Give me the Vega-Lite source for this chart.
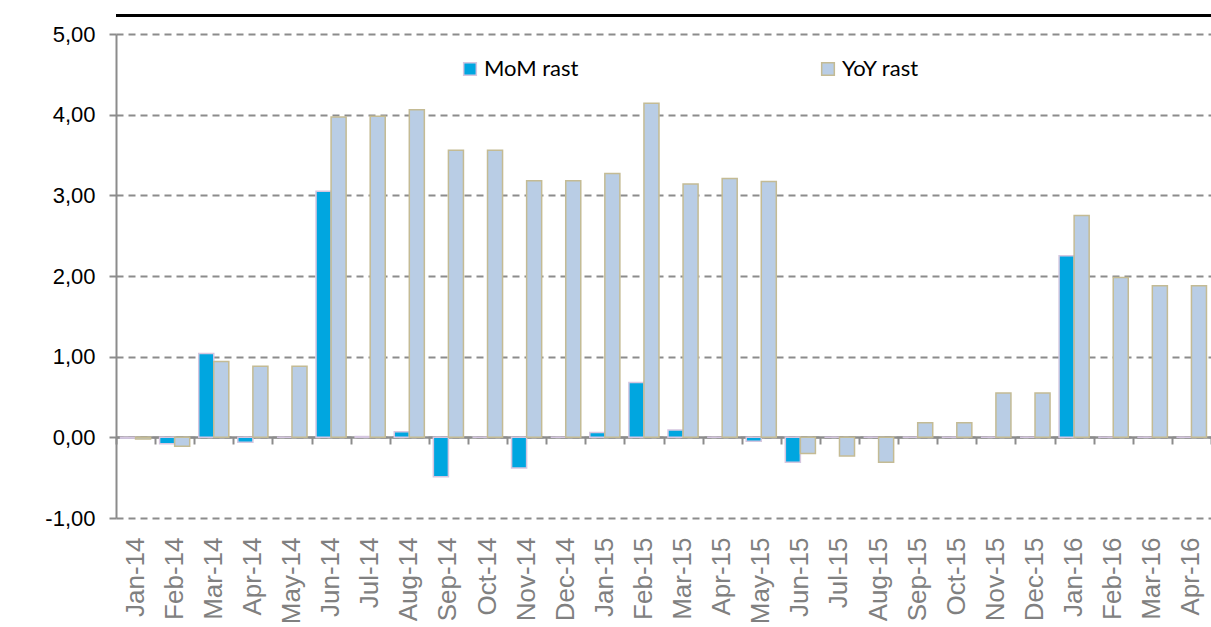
{
  "$schema": "https://vega.github.io/schema/vega-lite/v6.json",
  "width": 1095,
  "height": 484,
  "autosize": {"type": "none"},
  "padding": {"left": 116, "top": 34, "right": 0, "bottom": 109},
  "background": "white",
  "config": {"view": {"stroke": null}},
  "data": {"values": [
    {"month": "Jan-14", "series": "MoM rast", "value": -0.01},
    {"month": "Feb-14", "series": "MoM rast", "value": -0.08},
    {"month": "Mar-14", "series": "MoM rast", "value": 1.04},
    {"month": "Apr-14", "series": "MoM rast", "value": -0.06},
    {"month": "May-14", "series": "MoM rast", "value": 0},
    {"month": "Jun-14", "series": "MoM rast", "value": 3.05},
    {"month": "Jul-14", "series": "MoM rast", "value": 0.01},
    {"month": "Aug-14", "series": "MoM rast", "value": 0.07},
    {"month": "Sep-14", "series": "MoM rast", "value": -0.49},
    {"month": "Oct-14", "series": "MoM rast", "value": 0},
    {"month": "Nov-14", "series": "MoM rast", "value": -0.38},
    {"month": "Dec-14", "series": "MoM rast", "value": 0},
    {"month": "Jan-15", "series": "MoM rast", "value": 0.06},
    {"month": "Feb-15", "series": "MoM rast", "value": 0.68},
    {"month": "Mar-15", "series": "MoM rast", "value": 0.09},
    {"month": "Apr-15", "series": "MoM rast", "value": 0},
    {"month": "May-15", "series": "MoM rast", "value": -0.05},
    {"month": "Jun-15", "series": "MoM rast", "value": -0.31},
    {"month": "Jul-15", "series": "MoM rast", "value": 0},
    {"month": "Aug-15", "series": "MoM rast", "value": 0},
    {"month": "Sep-15", "series": "MoM rast", "value": 0},
    {"month": "Oct-15", "series": "MoM rast", "value": 0},
    {"month": "Nov-15", "series": "MoM rast", "value": 0},
    {"month": "Dec-15", "series": "MoM rast", "value": 0},
    {"month": "Jan-16", "series": "MoM rast", "value": 2.25},
    {"month": "Feb-16", "series": "MoM rast", "value": 0},
    {"month": "Mar-16", "series": "MoM rast", "value": 0},
    {"month": "Apr-16", "series": "MoM rast", "value": 0},
    {"month": "Jan-14", "series": "YoY rast", "value": -0.02},
    {"month": "Feb-14", "series": "YoY rast", "value": -0.11},
    {"month": "Mar-14", "series": "YoY rast", "value": 0.94},
    {"month": "Apr-14", "series": "YoY rast", "value": 0.88},
    {"month": "May-14", "series": "YoY rast", "value": 0.88},
    {"month": "Jun-14", "series": "YoY rast", "value": 3.97},
    {"month": "Jul-14", "series": "YoY rast", "value": 3.98},
    {"month": "Aug-14", "series": "YoY rast", "value": 4.06},
    {"month": "Sep-14", "series": "YoY rast", "value": 3.56},
    {"month": "Oct-14", "series": "YoY rast", "value": 3.56},
    {"month": "Nov-14", "series": "YoY rast", "value": 3.18},
    {"month": "Dec-14", "series": "YoY rast", "value": 3.18},
    {"month": "Jan-15", "series": "YoY rast", "value": 3.27},
    {"month": "Feb-15", "series": "YoY rast", "value": 4.14},
    {"month": "Mar-15", "series": "YoY rast", "value": 3.14},
    {"month": "Apr-15", "series": "YoY rast", "value": 3.21},
    {"month": "May-15", "series": "YoY rast", "value": 3.17},
    {"month": "Jun-15", "series": "YoY rast", "value": -0.2},
    {"month": "Jul-15", "series": "YoY rast", "value": -0.23},
    {"month": "Aug-15", "series": "YoY rast", "value": -0.31},
    {"month": "Sep-15", "series": "YoY rast", "value": 0.18},
    {"month": "Oct-15", "series": "YoY rast", "value": 0.18},
    {"month": "Nov-15", "series": "YoY rast", "value": 0.55},
    {"month": "Dec-15", "series": "YoY rast", "value": 0.55},
    {"month": "Jan-16", "series": "YoY rast", "value": 2.75},
    {"month": "Feb-16", "series": "YoY rast", "value": 1.98},
    {"month": "Mar-16", "series": "YoY rast", "value": 1.88},
    {"month": "Apr-16", "series": "YoY rast", "value": 1.88}
  ]},
  "resolve": {"axis": {"x": "independent"}},
  "layer": [
    {
      "transform": [{"filter": "datum.series === 'MoM rast'"}],
      "mark": {"type": "bar", "strokeWidth": 1.5},
      "encoding": {
        "x": {"field": "month", "type": "ordinal", "sort": null,
              "scale": {"paddingInner": 0, "paddingOuter": 0},
              "axis": {"orient": "bottom", "title": null, "labelAngle": 270, "labelAlign": "right", "labelBaseline": "middle",
                       "ticks": false, "domain": false, "grid": false, "labelPadding": 19,
                       "labelFont": "Liberation Sans", "labelFontSize": 26, "labelColor": "#808080"}},
        "xOffset": {"field": "series", "type": "nominal",
                    "scale": {"domain": ["MoM rast", "YoY rast"], "paddingOuter": 0.3, "paddingInner": 0}},
        "y": {"field": "value", "type": "quantitative",
              "scale": {"domain": [-1, 5], "nice": false, "zero": false},
              "axis": {"title": null, "values": [-1, 0, 1, 2, 3, 4, 5],
                       "labelExpr": "replace(replace(format(datum.value, '.2f'), '.', ','), '\u2212', '-')",
                       "labelFont": "Liberation Sans", "labelFontSize": 22, "labelColor": "black",
                       "labelPadding": 12,
                       "domain": true, "domainColor": "#8C8C8C", "domainWidth": 2,
                       "tickSize": 9, "tickColor": "#8C8C8C", "tickWidth": 2, "tickDash": [7, 5],
                       "grid": true, "gridColor": "#8C8C8C", "gridWidth": 2, "gridDash": [7, 5]}},
        "fill": {"field": "series", "type": "nominal",
                 "scale": {"domain": ["MoM rast", "YoY rast"], "range": ["#00A6E0", "#B9CDE5"]},
                 "legend": {"title": null, "orient": "none", "legendX": 343, "legendY": 24,
                            "direction": "horizontal", "columnPadding": 238,
                            "symbolType": "square", "symbolSize": 160, "symbolStrokeWidth": 1.5,
                            "labelFont": "Lato", "labelFontSize": 22, "labelColor": "black", "labelOffset": 3}},
        "stroke": {"field": "series", "type": "nominal",
                   "scale": {"domain": ["MoM rast", "YoY rast"], "range": ["#D5C6E0", "#C4BB94"]}}
      }
    },
    {
      "transform": [{"filter": "datum.series === 'YoY rast'"}],
      "mark": {"type": "bar", "strokeWidth": 1.5},
      "encoding": {
        "x": {"field": "month", "type": "ordinal", "sort": null,
              "axis": {"orient": "bottom", "title": null, "labels": false, "grid": false, "offset": -81,
                       "domain": true, "domainColor": "#8C8C8C", "domainWidth": 2.5,
                       "ticks": true, "tickBand": "extent", "tickSize": 7, "tickColor": "#8C8C8C", "tickWidth": 2}},
        "xOffset": {"field": "series", "type": "nominal"},
        "y": {"field": "value", "type": "quantitative"},
        "fill": {"field": "series", "type": "nominal"},
        "stroke": {"field": "series", "type": "nominal"}
      }
    },
    {
      "mark": {"type": "rule", "clip": false, "color": "black", "strokeWidth": 3},
      "encoding": {"y": {"datum": 5.23}}
    }
  ]
}
